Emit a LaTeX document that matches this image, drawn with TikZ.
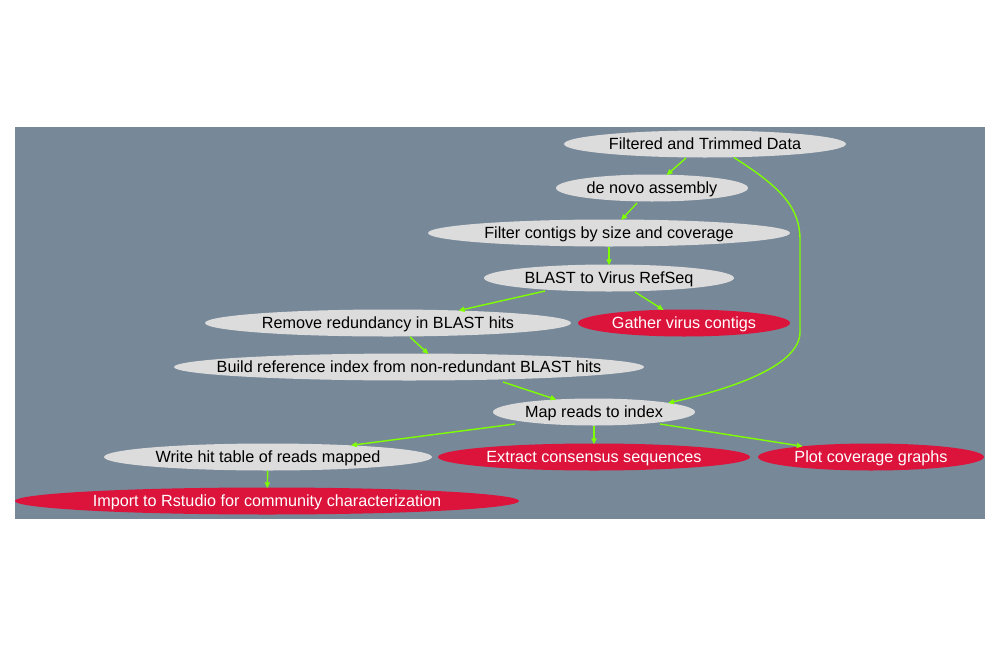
\documentclass[tikz,border=0pt]{standalone}
\usepackage{fontspec}
\setmainfont{Liberation Sans}
\usetikzlibrary{shapes.geometric,arrows.meta}
\definecolor{bggray}{HTML}{778899}
\definecolor{nodegray}{HTML}{DCDCDC}
\definecolor{nodered}{HTML}{DC143C}
\definecolor{edgegreen}{HTML}{7FFF00}
\newcommand{\zw}[1]{\makebox[0pt]{\raisebox{-5.8pt}[0pt][0pt]{#1}}}
\begin{document}
\begin{tikzpicture}[x=1pt,y=-1pt,
  base/.style={ellipse,inner sep=0pt,minimum height=27pt,font=\fontsize{16.2}{19}\selectfont},
  grayn/.style={base,fill=nodegray,text=black},
  redn/.style={base,fill=nodered,text=white},
  edge/.style={draw=edgegreen,line width=1.4pt,-{Triangle[length=6pt,width=5pt]},shorten >=-1pt}]
\useasboundingbox (0,0) rectangle (998,645);
\fill[white] (0,0) rectangle (998,645);
\fill[bggray] (15,127) rectangle (985,519);
\node[grayn,minimum width=282pt] (n1) at (705,144) {\zw{Filtered and Trimmed Data}};
\node[grayn,minimum width=192pt] (n2) at (652,188) {\zw{de novo assembly}};
\node[grayn,minimum width=362pt] (n3) at (609,233) {\zw{Filter contigs by size and coverage}};
\node[grayn,minimum width=250pt] (n4) at (609,278) {\zw{BLAST to Virus RefSeq}};
\node[grayn,minimum width=366pt] (n5) at (388,323) {\zw{Remove redundancy in BLAST hits}};
\node[redn,minimum width=212pt] (n6) at (684,323) {\zw{Gather virus contigs}};
\node[grayn,minimum width=470pt] (n7) at (409,367) {\zw{Build reference index from non-redundant BLAST hits}};
\node[grayn,minimum width=202pt] (n8) at (594,412) {\zw{Map reads to index}};
\node[grayn,minimum width=328pt] (n9) at (268,457) {\zw{Write hit table of reads mapped}};
\node[redn,minimum width=312pt] (n10) at (594,457) {\zw{Extract consensus sequences}};
\node[redn,minimum width=226pt] (n11) at (871,457) {\zw{Plot coverage graphs}};
\node[redn,minimum width=504pt] (n12) at (267,501) {\zw{Import to Rstudio for community characterization}};
\coordinate (c1) at (800,240);
\coordinate (c2) at (800,332);
\draw[edge] (686,158) -- (n2);
\draw[edge] (n1.-25) .. controls (782,188) and (800,208) .. (c1) -- (c2) .. controls (800,365) and (735,388) .. (n8.7);
\draw[edge] (637,203) -- (n3);
\draw[edge] (n3) -- (n4);
\draw[edge] (545,291) -- (n5.10);
\draw[edge] (635,292) -- (n6);
\draw[edge] (410,337) -- (n7.36);
\draw[edge] (503,382) -- (n8);
\draw[edge] (515,424) -- (n9.8);
\draw[edge] (n8) -- (n10);
\draw[edge] (660,424) -- (n11);
\draw[edge] (n9) -- (n12);
\end{tikzpicture}
\end{document}
